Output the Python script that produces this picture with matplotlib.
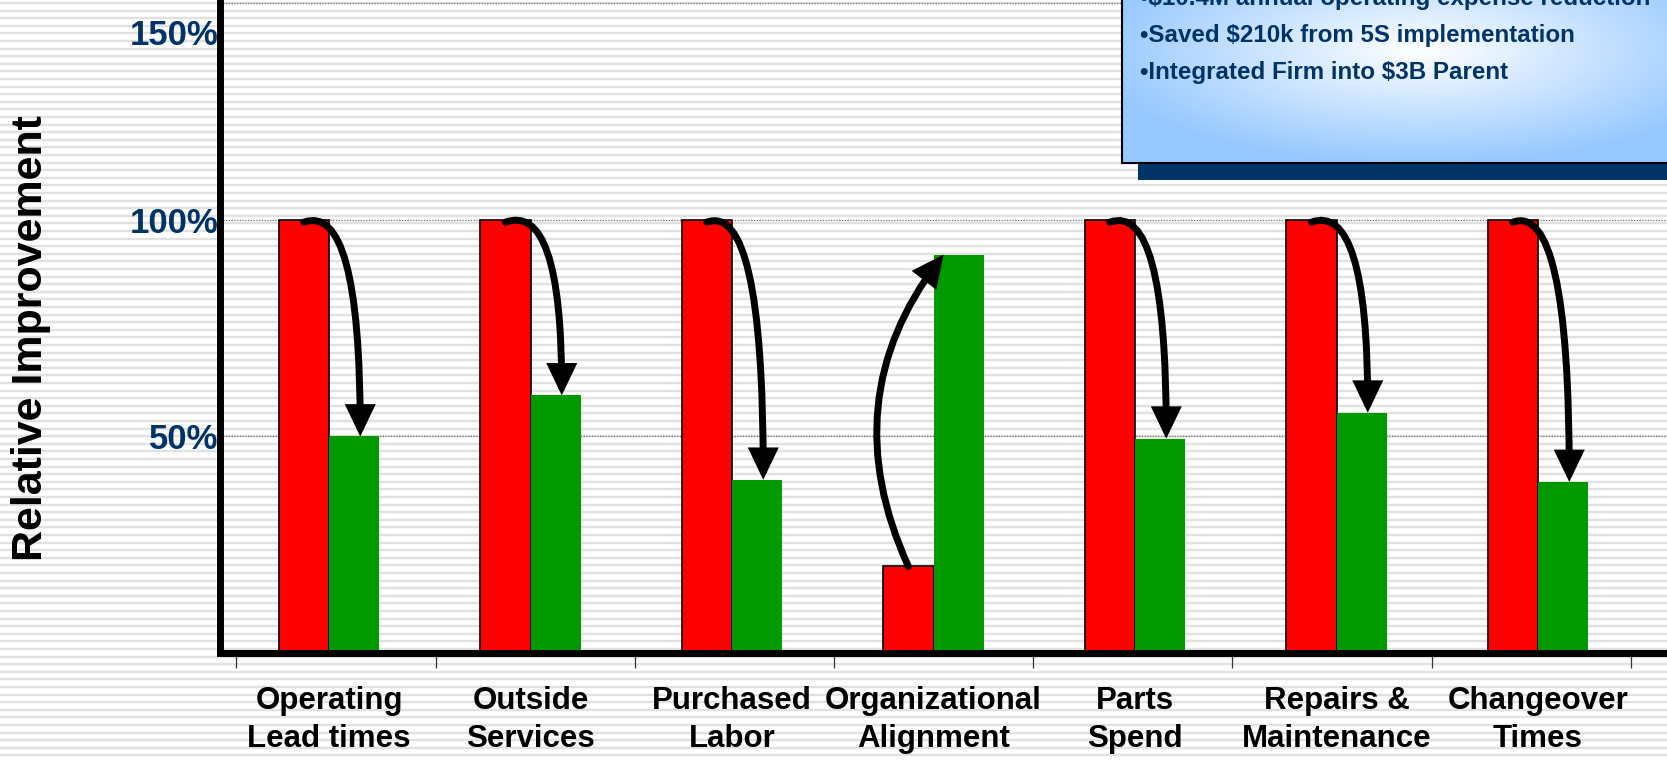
import numpy as np
import matplotlib
matplotlib.use('Agg')
import matplotlib.pyplot as plt
from matplotlib.patches import FancyArrowPatch, Rectangle
from matplotlib.transforms import ScaledTranslation

# ---------------- data ----------------
categories = ["Operating\nLead times", "Outside\nServices", "Purchased\nLabor",
              "Organizational\nAlignment", "Parts\nSpend", "Repairs &\nMaintenance",
              "Changeover\nTimes"]
before = [100, 100, 100, 20, 100, 100, 100]
after = [50, 59.5, 40, 92, 49.5, 55.5, 39.5]
ytick_values = [50, 100, 150]
ytick_labels = ["50%", "100%", "150%"]
ylabel = "Relative Improvement"
box_lines = ["•$10.4M annual operating expense reduction",
             "•Saved $210k from 5S implementation",
             "•Integrated Firm into $3B Parent"]

# ---------------- figure ----------------
plt.rcParams['font.family'] = ['Liberation Sans', 'DejaVu Sans']
W, H = 1667, 762
DPI = 100
fig = plt.figure(figsize=(W / DPI, H / DPI), dpi=DPI)
fig.patch.set_facecolor('white')

# striped background
bg = fig.add_axes([0, 0, 1, 1], zorder=-10)
bg.set_xlim(0, W)
bg.set_ylim(H, 0)
bg.axis('off')
bg.hlines(np.arange(3, H, 7.6), 0, W, color='#e1e1e1', lw=1.7)

AX_L, AX_B = 220, 653
ax = fig.add_axes([AX_L / W, 1 - AX_B / H, 1 - AX_L / W, AX_B / H], zorder=1)
ax.set_facecolor('none')

x = np.arange(len(categories))
bw = 0.25
ax.bar(x - bw / 2, before, bw, color='#ff0000', edgecolor='black', linewidth=1.2, zorder=2)
ax.bar(x + bw / 2, after, bw, color='#009900', edgecolor='none', zorder=2)
ax.set_xlim(-0.541, 6.64)
ax.set_ylim(0, 150.8)

# grid
ax.set_yticks(ytick_values, ytick_labels)
ax.set_axisbelow(True)
ax.grid(axis='y', color='#6f6f6f', linestyle=(0, (1, 1.2)), linewidth=0.9)

# spines
for s in ['top', 'right']:
    ax.spines[s].set_visible(False)
for s in ['left', 'bottom']:
    ax.spines[s].set_linewidth(5)
    ax.spines[s].set_color('black')

ax.tick_params(axis='y', length=0, pad=1, labelsize=25, labelcolor='#003366')
for lab in ax.get_yticklabels():
    lab.set_fontweight('bold')
labs = ax.get_yticklabels()
labs[2].set_transform(labs[2].get_transform() +
                      ScaledTranslation(0, -29 / DPI, fig.dpi_scale_trans))

ax.set_xticks(x, categories)
ax.tick_params(axis='x', which='major', length=0, pad=24, labelsize=22.5)
for lab in ax.get_xticklabels():
    lab.set_fontweight('bold')
    lab.set_linespacing(1.32)
ax.set_xticks(np.linspace(-0.46, 6.46, len(categories) + 1), minor=True)
ax.tick_params(axis='x', which='minor', length=11, width=0.9, color='#333333',
               direction='out')

fig.text(31 / W, 1 - 338 / H, ylabel, rotation=90, ha='center', va='center',
         fontsize=31, fontweight='bold', color='black')

# arrows
for i, (b, a) in enumerate(zip(before, after)):
    xr = i - bw / 2
    xg = i + bw / 2
    if a < b:
        start = (xr, b - 0.5)
        end = (xg + 0.03, a)
        cs = "angle3,angleA=20,angleB=90"
    else:
        start = (xr, b)
        end = (xg - 0.3 * bw, a)
        cs = "arc3,rad=-0.3"
    arr = FancyArrowPatch(start, end, connectionstyle=cs,
                          arrowstyle='-|>,head_length=0.75,head_width=0.36',
                          mutation_scale=20, lw=5, color='black',
                          shrinkA=0, shrinkB=0, zorder=5, joinstyle='miter')
    ax.add_patch(arr)

# ---------------- text box ----------------
ov = fig.add_axes([0, 0, 1, 1], zorder=4)
ov.axis('off')
ov.add_patch(Rectangle((1138, -20), 700, 200, facecolor='#003366', edgecolor='none', zorder=1))
xs = np.linspace(1122, 1700, 300)
ys = np.linspace(-20, 163, 100)
X, Y = np.meshgrid(xs, ys)
t = np.clip(np.sqrt(((X - 1420) / 330) ** 2 + ((Y - 50) / 115) ** 2), 0, 1)
edge = np.array([150, 200, 255]) / 255
img = (1 - t)[..., None] * np.ones(3) + t[..., None] * edge
ov.imshow(img, extent=(1122, 1700, 163, -20), origin='upper', aspect='auto',
          zorder=2, interpolation='bilinear')
ov.add_patch(Rectangle((1122, -20), 700, 183, facecolor='none', edgecolor='black',
                       lw=1.5, zorder=3))
for k, line in enumerate(box_lines):
    ov.text(1140, -1 + k * 36.5, line, fontsize=17.4, fontweight='bold', color='#003366',
            ha='left', va='center', zorder=5)
ov.set_xlim(0, W)
ov.set_ylim(H, 0)

fig.savefig('out.png', dpi=DPI)
